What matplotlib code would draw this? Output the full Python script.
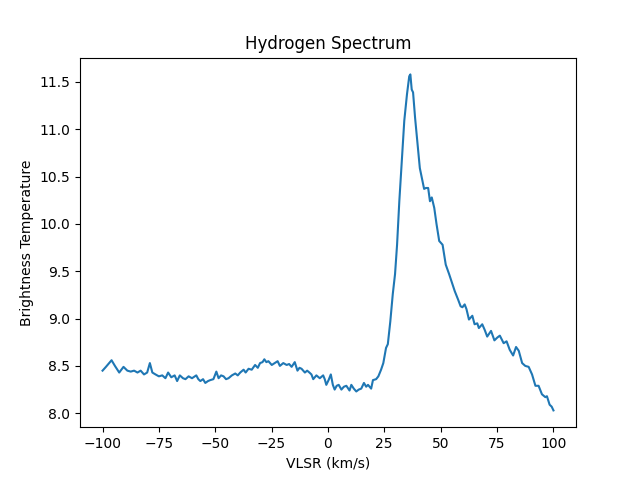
import matplotlib
matplotlib.use("Agg")
import matplotlib.pyplot as plt

vlsr = [-100.0, -98.5, -96.0, -94.5, -92.6, -90.7, -89.0, -87.5, -86.0, -84.5, -83.1, -81.6, -80.2, -79.0, -77.9,
        -76.5, -75.0, -73.5, -72.1, -70.9, -69.5, -68.0, -66.9, -65.7, -64.3, -63.2, -61.8, -60.3, -58.4, -57.5, -56.6,
        -55.4, -54.4, -53.2, -52.2, -50.8, -49.5, -48.5, -47.4, -46.3, -45.2, -44.1, -42.6, -41.1, -40.0, -38.9, -37.4,
        -36.5, -35.2, -33.8, -32.3, -31.1, -30.1, -29.0, -28.2, -27.3, -26.4, -24.9, -23.6, -22.3, -21.3, -19.8, -18.3,
        -17.2, -16.1, -14.7, -13.5, -12.6, -11.7, -10.2, -9.2, -8.2, -7.3, -6.5, -5.1, -3.6, -2.1, -1.4, -0.7, 0.3, 1.3,
        2.2, 3.0, 3.9, 4.8, 6.0, 7.1, 8.2, 9.6, 10.4, 11.5, 12.6, 13.7, 14.8, 16.0, 17.0, 17.8, 19.2, 20.0, 21.4, 22.4,
        23.6, 24.6, 25.8, 26.6, 27.7, 28.8, 29.8, 30.7, 31.7, 32.8, 33.9, 35.1, 36.1, 36.6, 37.2, 37.8, 38.7, 39.8, 40.8,
        42.0, 42.7, 43.5, 44.5, 45.3, 46.1, 47.2, 48.2, 49.4, 50.9, 52.3, 53.8, 55.3, 56.3, 57.8, 58.9, 59.7, 60.7, 61.5,
        62.6, 64.1, 65.1, 66.3, 67.0, 68.5, 69.6, 70.7, 72.4, 73.9, 75.2, 76.3, 78.0, 79.3, 80.7, 82.2, 83.5, 84.7, 86.2,
        87.6, 89.1, 90.6, 92.1, 93.5, 95.0, 96.5, 97.2, 98.4, 99.3, 100.1]
temp = [8.45, 8.49, 8.56, 8.50, 8.43, 8.49, 8.45, 8.44, 8.45, 8.43, 8.45, 8.41, 8.43, 8.53, 8.43,
        8.41, 8.39, 8.40, 8.37, 8.43, 8.38, 8.40, 8.34, 8.40, 8.37, 8.36, 8.39, 8.37, 8.40, 8.36, 8.34,
        8.36, 8.32, 8.34, 8.35, 8.36, 8.44, 8.37, 8.40, 8.39, 8.36, 8.37, 8.40, 8.42, 8.40, 8.43, 8.46,
        8.43, 8.47, 8.46, 8.51, 8.48, 8.53, 8.54, 8.57, 8.54, 8.55, 8.51, 8.53, 8.55, 8.50, 8.53, 8.51,
        8.52, 8.49, 8.54, 8.45, 8.48, 8.47, 8.43, 8.45, 8.43, 8.41, 8.36, 8.40, 8.37, 8.40, 8.36, 8.30, 8.35, 8.41,
        8.30, 8.25, 8.29, 8.30, 8.25, 8.28, 8.29, 8.24, 8.30, 8.26, 8.23, 8.25, 8.26, 8.32, 8.28, 8.30, 8.26, 8.35, 8.36, 8.39,
        8.46, 8.53, 8.69, 8.73, 8.97, 9.26, 9.47, 9.78, 10.24, 10.66, 11.09, 11.37, 11.56, 11.58, 11.42, 11.39, 11.12, 10.84, 10.59,
        10.45, 10.37, 10.38, 10.38, 10.24, 10.28, 10.17, 10.00, 9.82, 9.78, 9.57, 9.47, 9.36, 9.29, 9.20, 9.13, 9.12, 9.15, 9.10,
        8.99, 9.03, 8.94, 8.95, 8.90, 8.94, 8.88, 8.81, 8.87, 8.77, 8.80, 8.82, 8.74, 8.76, 8.67, 8.61, 8.70, 8.66, 8.53,
        8.50, 8.49, 8.41, 8.29, 8.29, 8.20, 8.17, 8.18, 8.09, 8.07, 8.03]

fig, ax = plt.subplots(figsize=(6.4, 4.8), dpi=100)
ax.plot(vlsr, temp, color="#1f77b4")
ax.set_title("Hydrogen Spectrum")
ax.set_xlabel("VLSR (km/s)")
ax.set_ylabel("Brightness Temperature")
fig.savefig("out.png")
